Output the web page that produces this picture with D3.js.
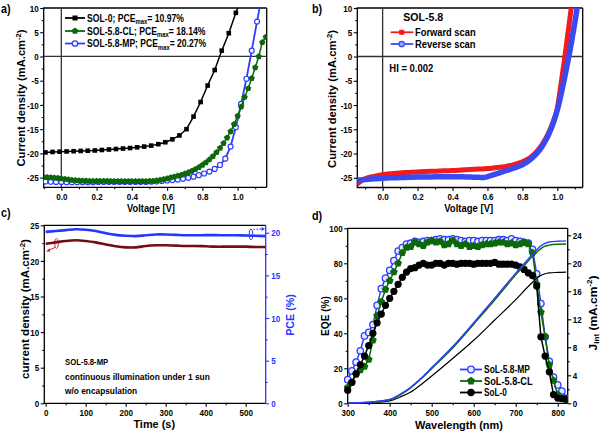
<!DOCTYPE html>
<html><head><meta charset="utf-8">
<script src="https://cdn.jsdelivr.net/npm/d3@7"></script>
<style>body{margin:0;background:#fff}</style>
</head><body><svg id="c" width="600" height="432" style="background:#fff"></svg>
<script>
// ---------- DATA ----------
// panel a: J-V curves
const vSol0 = [-0.09,-0.05,-0.01,0.03,0.07,0.11,0.15,0.19,0.23,0.27,0.31,0.35,0.39,0.43,0.47,0.51,0.55,0.59,0.63,0.67,0.71,0.75,0.79,0.83,0.87,0.91,0.95,0.99,1.03];
const jSol0 = [-19.8,-19.7,-19.65,-19.6,-19.55,-19.5,-19.45,-19.4,-19.3,-19.2,-19.1,-19.0,-18.9,-18.75,-18.6,-18.4,-18.1,-17.7,-17.1,-16.3,-15.0,-12.4,-9.4,-6.0,-2.8,1.2,4.8,9.0,13.0];
const vCL = [-0.10,-0.08,-0.06,-0.04,-0.02,0.00,0.02,0.04,0.06,0.08,0.10,0.12,0.14,0.16,0.18,0.20,0.22,0.24,0.26,0.28,0.30,0.32,0.34,0.36,0.38,0.40,0.42,0.44,0.46,0.48,0.50,0.52,0.54,0.56,0.58,0.60,0.62,0.64,0.66,0.68,0.70,0.72,0.74,0.76,0.78,0.80,0.82,0.84,0.86,0.88,0.90,0.92,0.94,0.96,0.98,1.00,1.02,1.04,1.06,1.08,1.10,1.12,1.14,1.16];
const jCL = [-24.9,-24.95,-25.0,-25.05,-25.1,-25.2,-25.3,-25.4,-25.5,-25.55,-25.6,-25.65,-25.65,-25.7,-25.7,-25.7,-25.7,-25.7,-25.7,-25.75,-25.75,-25.75,-25.75,-25.75,-25.75,-25.75,-25.75,-25.75,-25.75,-25.75,-25.7,-25.7,-25.6,-25.5,-25.35,-25.2,-25.0,-24.85,-24.65,-24.45,-24.2,-23.95,-23.65,-23.3,-22.9,-22.4,-21.9,-21.3,-20.6,-19.8,-18.9,-17.9,-16.8,-15.5,-14.0,-12.3,-10.4,-8.4,-6.6,-4.5,-2.3,0.0,2.9,4.0];
const vMP = [-0.09,-0.06,-0.03,0.00,0.03,0.06,0.09,0.12,0.15,0.18,0.21,0.24,0.27,0.30,0.33,0.36,0.39,0.42,0.45,0.48,0.51,0.54,0.57,0.60,0.63,0.66,0.69,0.72,0.75,0.78,0.81,0.84,0.87,0.90,0.93,0.96,0.99,1.02,1.05,1.08,1.11,1.14];
const jMP = [-25.8,-25.85,-25.9,-25.9,-25.95,-25.95,-25.95,-25.95,-25.95,-25.95,-25.9,-25.9,-25.9,-25.9,-25.9,-25.9,-25.9,-25.9,-25.9,-25.9,-25.85,-25.8,-25.7,-25.6,-25.5,-25.4,-25.25,-25.05,-24.8,-24.5,-24.15,-23.75,-23.2,-22.4,-21.1,-18.6,-14.6,-9.8,-4.6,1.2,7.2,13.0];
const legendA = ["SOL-0; PCE", "SOL-5.8-CL; PCE", "SOL-5.8-MP; PCE"];
const pceA = ["= 10.97%", "= 18.14%", "= 20.27%"];

// panel b: hysteresis
const vFwd = [-0.15,-0.125,-0.10,-0.05,0.00,0.05,0.10,0.15,0.20,0.25,0.30,0.35,0.40,0.45,0.50,0.55,0.60,0.65,0.70,0.75,0.80,0.85,0.90,0.925,0.95,0.975,1.00,1.02,1.04,1.06,1.08,1.10];
const jFwd = [-26.4,-25.7,-25.2,-24.7,-24.35,-24.15,-24.0,-23.9,-23.8,-23.7,-23.65,-23.55,-23.5,-23.4,-23.3,-23.2,-23.1,-22.9,-22.7,-22.3,-21.7,-20.7,-18.8,-17.4,-15.7,-13.5,-10.6,-5.9,-0.8,4.6,10.2,15.5];
const vRev = [-0.15,-0.10,-0.05,0.00,0.05,0.10,0.15,0.20,0.25,0.30,0.35,0.40,0.45,0.50,0.55,0.58,0.60,0.65,0.70,0.75,0.80,0.85,0.90,0.925,0.95,0.975,1.00,1.02,1.04,1.06,1.08,1.10,1.12];
const jRev = [-25.5,-25.35,-25.2,-25.1,-25.0,-24.95,-24.9,-24.85,-24.85,-24.8,-24.8,-24.8,-24.8,-24.85,-24.9,-24.95,-24.75,-24.2,-23.6,-23.0,-22.3,-21.1,-19.2,-17.8,-16.1,-13.9,-11.0,-8.0,-4.6,-1.0,2.8,7.0,11.5];

// panel c: stability
const tStab = [0,25,50,75,100,125,150,175,200,225,250,275,300,325,350,375,400,425,450,475,500,525,550];
const jStab = [22.4,22.6,22.8,22.9,22.8,22.6,22.3,22.05,21.9,21.9,22.1,22.2,22.2,22.15,22.1,22.1,22.05,22.0,22.0,22.0,22.0,21.95,21.95];
const pceStab = [20.1,20.2,20.3,20.4,20.35,20.2,19.95,19.75,19.65,19.6,19.7,19.8,19.8,19.75,19.7,19.7,19.72,19.72,19.7,19.7,19.68,19.65,19.6];

// panel d: EQE and integrated Jsc
const nm = [300,310,320,330,340,350,360,370,380,390,400,410,420,430,440,450,460,470,480,490,500,510,520,530,540,550,560,570,580,590,600,610,620,630,640,650,660,670,680,690,700,710,720,730,740,750,760,770,780,790,800,810,820];
const eqeMP = [13.5,18.5,23.5,30,38.5,40.5,45,56,65.5,71.5,76,81.5,87,89,91,91.5,92.5,92,92.5,93,93,93.5,94,93.5,93.5,94,93.5,93,92.5,93,93,92.5,93,93,93,93,93.5,93.5,93,94,93,92.5,92,91.5,88,74,57,38,24,15,10.5,7,3];
const eqeCL = [9,12,16.5,19,21,25,36,50,58,65,70,75,80,86,89,89.5,92,91,90,92,93,92,92.5,90.5,91,93,91,90,91,89.5,90,89.5,90.5,91,91,91.5,92,92,91,91.5,90.5,91,92,91,86,68,52,38,22,13,5,2.7,2];
const eqe0 = [7.5,12,17,22,27,33,40,46,51,56,60,64,68,72,75,77,77.5,79,80,79,79,80,80,79,80,80,79.5,80,80,80,79.5,80,80,80,80,80.5,79.5,79.5,79.5,79.5,79,78,76.5,74.5,73,67,38,27,18,5,3,2.7,2.5];
const nmJ = [300,350,400,425,450,475,500,550,600,650,700,725,740,750,760,770,780,800,820];
const jintMP = [0.05,0.15,0.55,1.3,2.3,3.6,5.1,8.1,11.5,15.0,18.6,20.3,21.3,21.9,22.5,22.85,23.05,23.15,23.2];
const jintCL = [0.05,0.15,0.5,1.2,2.2,3.5,4.95,7.9,11.3,14.75,18.35,20.0,21.0,21.55,22.1,22.45,22.6,22.72,22.75];
const jint0 = [0.03,0.1,0.35,0.9,1.6,2.7,3.9,6.4,9.0,11.9,14.8,16.4,17.3,17.85,18.25,18.5,18.62,18.7,18.75];
const legendD = ["SoL-5.8-MP", "SoL-5.8-CL", "SoL-0"];

// ---------- STYLE ----------
const FONT = '"Liberation Sans", Arial, Helvetica, sans-serif';
const TSX = 0.82;
const C = {blue:"#2f3dff", green:"#0b680b", black:"#000", red:"#f21a1a", blueB:"#3a4af2", maroon:"#6f0e14", blueC:"#2536ff"};

const svg = d3.select('#c');
const pentagon = {draw(ctx, size){ const r=Math.sqrt(size/2.378); for(let i=0;i<5;i++){const a=-Math.PI/2+i*2*Math.PI/5; const px=r*Math.cos(a), py=r*Math.sin(a); i?ctx.lineTo(px,py):ctx.moveTo(px,py);} ctx.closePath(); }};

function txt(g, segs, o){
  const size=o.size||11;
  const t=g.append('text').attr('font-family',FONT).attr('font-weight','bold').attr('font-size',size)
    .attr('fill',o.fill||'#000').attr('text-anchor',o.rot?'middle':(o.anchor||'start')).attr('y',0.358*size);
  let shift=0;
  segs.forEach(s=>{
    if(typeof s==='string') s={t:s};
    const ts=t.append('tspan').text(s.t);
    const target=s.sup?-0.4*size:(s.sub?0.25*size:0);
    if(target!==shift){ts.attr('dy',target-shift); shift=target;}
    if(s.sup||s.sub) ts.attr('font-size',size*0.68);
  });
  const n=t.node().getComputedTextLength();
  const k=o.len? o.len/n : (o.sx||TSX);
  if(o.rot) t.attr('transform',`translate(${o.x},${o.y}) rotate(${o.rot}) scale(${k},1)`);
  else t.attr('transform',`translate(${o.x},${o.y}) scale(${k},1)`);
  return t;
}

function axis(g, scale, orient, pos, major, minor, fmt, o={}){
  const color=o.color||'#000';
  const A={bottom:d3.axisBottom,left:d3.axisLeft,right:d3.axisRight}[orient];
  const tr=orient==='bottom'?`translate(0,${pos})`:`translate(${pos},0)`;
  const gm=g.append('g').attr('transform',tr).call(A(scale).tickValues(minor).tickSize(2).tickFormat(''));
  const gM=g.append('g').attr('transform',tr).call(A(scale).tickValues(major).tickSize(3.5).tickPadding(o.pad??1.5).tickFormat(fmt));
  [gm,gM].forEach(s=>{s.select('.domain').remove(); s.selectAll('line').attr('stroke',color).attr('stroke-width',1.1);});
  gM.selectAll('text').attr('font-size',o.size||9.8).attr('font-family',FONT).attr('font-weight','bold').attr('fill',color)
    .each(function(){const t=d3.select(this); const x=+t.attr('x')||0; t.attr('x',x/TSX).attr('transform',`scale(${TSX},1)`);});
}

function frame(g,x0,y0,x1,y1,rightColor){
  g.append('path').attr('d',`M${x1},${y0}H${x0}V${y1}H${x1}`).attr('fill','none').attr('stroke','#000').attr('stroke-width',1.3);
  g.append('line').attr('x1',x1).attr('x2',x1).attr('y1',y0).attr('y2',y1).attr('stroke',rightColor||'#000').attr('stroke-width',1.3);
}
function clip(id,x0,y0,x1,y1){
  svg.append('clipPath').attr('id',id).append('rect').attr('x',x0).attr('y',y0).attr('width',x1-x0).attr('height',y1-y0);
  return svg.append('g').attr('clip-path',`url(#${id})`);
}
const fmtInt=d=>String(d);
const fmt1=d=>d.toFixed(1);

// ================= PANEL A =================
{
  const L=43.7,R=266.7,T=8,B=187.3;
  const x=d3.scaleLinear().domain([-0.1,1.165]).range([L,R]);
  const y=d3.scaleLinear().domain([-27,10]).range([B,T]);
  const g=svg.append('g');
  const p=clip('ca',L,T,R,B);
  p.append('line').attr('x1',L).attr('x2',R).attr('y1',y(0)).attr('y2',y(0)).attr('stroke','#333').attr('stroke-width',1.3);
  p.append('line').attr('x1',x(0)).attr('x2',x(0)).attr('y1',T).attr('y2',B).attr('stroke','#333').attr('stroke-width',1.3);
  const line=d3.line().x(d=>x(d[0])).y(d=>y(d[1]));
  const dMP=vMP.map((v,i)=>[v,jMP[i]]), dCL=vCL.map((v,i)=>[v,jCL[i]]), d0=vSol0.map((v,i)=>[v,jSol0[i]]);
  p.append('path').attr('d',line(dMP)).attr('fill','none').attr('stroke',C.blue).attr('stroke-width',1.8);
  p.selectAll('.mp').data(dMP).join('circle').attr('cx',d=>x(d[0])).attr('cy',d=>y(d[1])).attr('r',2.5).attr('fill','#fff').attr('stroke',C.blue).attr('stroke-width',1.2);
  p.append('path').attr('d',line(dCL)).attr('fill','none').attr('stroke',C.green).attr('stroke-width',1.5);
  p.selectAll('.cl').data(dCL).join('path').attr('transform',d=>`translate(${x(d[0])},${y(d[1])})`).attr('d',d3.symbol(pentagon,26)).attr('fill',C.green);
  p.append('path').attr('d',line(d0)).attr('fill','none').attr('stroke','#000').attr('stroke-width',1.5);
  p.selectAll('.s0').data(d0).join('rect').attr('x',d=>x(d[0])-2.3).attr('y',d=>y(d[1])-2.3).attr('width',4.6).attr('height',4.6).attr('fill','#000');
  frame(g,L,T,R,B);
  axis(g,x,'bottom',B,[0,0.2,0.4,0.6,0.8,1.0],[-0.1,0.1,0.3,0.5,0.7,0.9,1.1],fmt1,{pad:2});
  axis(g,y,'left',L,[10,5,0,-5,-10,-15,-20,-25],[7.5,2.5,-2.5,-7.5,-12.5,-17.5,-22.5],fmtInt,{pad:1.5});
  txt(g,['Current density (mA.cm',{t:'-2',sup:true},')'],{x:21,y:98,rot:-90,len:137,size:11.5});
  txt(g,['Voltage [V]'],{x:151,y:207.5,anchor:'middle',len:48,size:11.5});
  txt(g,['a)'],{x:1,y:8.5,size:12,sx:0.9});
  // legend
  const ly=[18,31,43.5], lc=[C.black,C.green,C.blue], lw=[97,118.5,119.3];
  ly.forEach((yy,i)=>{
    g.append('line').attr('x1',65).attr('x2',85).attr('y1',yy).attr('y2',yy).attr('stroke',lc[i]).attr('stroke-width',1.8);
    if(i===0) g.append('rect').attr('x',72.5).attr('y',yy-2.5).attr('width',5).attr('height',5).attr('fill','#000');
    if(i===1) g.append('path').attr('transform',`translate(75,${yy})`).attr('d',d3.symbol(pentagon,30)).attr('fill',C.green);
    if(i===2) g.append('circle').attr('cx',75).attr('cy',yy).attr('r',2.7).attr('fill','#fff').attr('stroke',C.blue).attr('stroke-width',1.3);
    txt(g,[legendA[i],{t:'max',sub:true},pceA[i]],{x:87,y:yy,len:lw[i],size:10.3});
  });
}

// ================= PANEL B =================
{
  const L=357.3,R=582.7,T=8,B=187.5;
  const x=d3.scaleLinear().domain([-0.145,1.145]).range([L,R]);
  const y=d3.scaleLinear().domain([-27,10]).range([B,T]);
  const g=svg.append('g');
  const p=clip('cb',L,T,R,B);
  p.append('line').attr('x1',L).attr('x2',R).attr('y1',y(0)).attr('y2',y(0)).attr('stroke','#333').attr('stroke-width',1.3);
  p.append('line').attr('x1',x(0)).attr('x2',x(0)).attr('y1',T).attr('y2',B).attr('stroke','#333').attr('stroke-width',1.3);
  const line=d3.line().x(d=>x(d[0])).y(d=>y(d[1])).curve(d3.curveMonotoneX);
  const dF=vFwd.map((v,i)=>[v,jFwd[i]]), dR=vRev.map((v,i)=>[v,jRev[i]]);
  p.append('path').attr('d',line(dF)).attr('fill','none').attr('stroke',C.red).attr('stroke-width',5).attr('stroke-linejoin','round');
  p.append('path').attr('d',line(dR)).attr('fill','none').attr('stroke',C.blueB).attr('stroke-width',5.5).attr('stroke-linejoin','round');
  frame(g,L,T,R,B);
  axis(g,x,'bottom',B,[0,0.2,0.4,0.6,0.8,1.0],[-0.1,0.1,0.3,0.5,0.7,0.9,1.1],fmt1,{pad:2});
  axis(g,y,'left',L,[10,5,0,-5,-10,-15,-20,-25],[7.5,2.5,-2.5,-7.5,-12.5,-17.5,-22.5],fmtInt,{pad:1.5});
  txt(g,['Current density (mA.cm',{t:'-2',sup:true},')'],{x:332,y:99,rot:-90,len:138,size:11.5});
  txt(g,['Voltage [V]'],{x:468.7,y:207.5,anchor:'middle',len:49,size:11.5});
  txt(g,['b)'],{x:312,y:8.5,size:12,sx:0.9});
  txt(g,['SOL-5.8'],{x:403.3,y:17,len:40,size:11});
  g.append('line').attr('x1',390.7).attr('x2',413.3).attr('y1',32.3).attr('y2',32.3).attr('stroke',C.red).attr('stroke-width',1.8);
  g.append('rect').attr('x',399.2).attr('y',29.8).attr('width',5).attr('height',5).attr('fill',C.red);
  g.append('line').attr('x1',390.7).attr('x2',413.3).attr('y1',44).attr('y2',44).attr('stroke',C.blueB).attr('stroke-width',1.8);
  g.append('circle').attr('cx',401.7).attr('cy',44).attr('r',2.7).attr('fill','#9aa6ff').attr('stroke',C.blueB).attr('stroke-width',1.3);
  txt(g,['Forward scan'],{x:415,y:32.3,len:60.7,size:11});
  txt(g,['Reverse scan'],{x:415,y:44,len:60.7,size:11});
  txt(g,['HI = 0.002'],{x:389.3,y:68.3,len:44,size:10.5});
}

// ================= PANEL C =================
{
  const L=44.3,R=265.7,T=225.3,B=403.3;
  const x=d3.scaleLinear().domain([-3.5,550]).range([L,R]);
  const y=d3.scaleLinear().domain([0,25]).range([B,T]);
  const y2=d3.scaleLinear().domain([0,20.87]).range([B,T]);
  const g=svg.append('g');
  const p=clip('cc',L,T,R,B);
  const lJ=d3.line().x((d,i)=>x(tStab[i])).y(d=>y(d)).curve(d3.curveCatmullRom);
  const lP=d3.line().x((d,i)=>x(tStab[i])).y(d=>y2(d)).curve(d3.curveCatmullRom);
  p.append('path').attr('d',lP(pceStab)).attr('fill','none').attr('stroke',C.blueC).attr('stroke-width',2.6);
  p.append('path').attr('d',lJ(jStab)).attr('fill','none').attr('stroke',C.maroon).attr('stroke-width',2.6);
  // annotations
  g.append('ellipse').attr('cx',56.5).attr('cy',y(22.45)).attr('rx',1.8).attr('ry',5).attr('fill','none').attr('stroke','#c0303c').attr('stroke-width',1);
  g.append('line').attr('x1',55).attr('y1',y(22.45)+4).attr('x2',48).attr('y2',y(22.45)+7).attr('stroke','#c0303c').attr('stroke-width',1);
  g.append('path').attr('d',`M46,${y(22.45)+8} l3.5,-3.2 l0.8,3.4 z`).attr('fill','#c0303c');
  g.append('ellipse').attr('cx',251).attr('cy',y2(19.8)).attr('rx',1.8).attr('ry',5.5).attr('fill','none').attr('stroke',C.blueC).attr('stroke-width',1);
  g.append('line').attr('x1',253.5).attr('y1',y2(19.8)-5).attr('x2',262).attr('y2',y2(19.8)-5.5).attr('stroke',C.blueC).attr('stroke-width',1).attr('stroke-dasharray','1.5,1.5');
  g.append('path').attr('d',`M265,${y2(19.8)-5.5} l-3.5,-2 l0,4 z`).attr('fill',C.blueC);
  frame(g,L,T,R,B,C.blueC);
  axis(g,x,'bottom',B,[0,100,200,300,400,500],[50,150,250,350,450],fmtInt,{pad:2});
  axis(g,y,'left',L,[0,5,10,15,20,25],[2.5,7.5,12.5,17.5,22.5],fmtInt,{pad:1.5});
  axis(g,y2,'right',R,[0,5,10,15,20],[2.5,7.5,12.5,17.5],fmtInt,{pad:2,color:C.blueC});
  txt(g,['current density (mA.cm',{t:'-2',sup:true},')'],{x:25,y:309,rot:-90,len:140,size:11.5});
  txt(g,['PCE (%)'],{x:290,y:315,rot:-90,len:41.7,size:11.5,fill:C.blueC});
  txt(g,['Time (s)'],{x:154.2,y:423.5,anchor:'middle',len:41.7,size:11.5});
  txt(g,['c)'],{x:1,y:213,size:12,sx:0.9});
  txt(g,['SOL-5.8-MP'],{x:65,y:362,len:43.3,size:9.5});
  txt(g,['continuous illumination under 1 sun'],{x:65,y:377,len:145,size:9.5});
  txt(g,['w/o encapsulation'],{x:65,y:391,len:72.3,size:9.5});
}

// ================= PANEL D =================
{
  const L=347.7,R=567.7,T=228.3,B=403.3;
  const x=d3.scaleLinear().domain([300,823.8]).range([L,R]);
  const y=d3.scaleLinear().domain([0,100]).range([B,T]);
  const y2=d3.scaleLinear().domain([0,25]).range([B,T]);
  const g=svg.append('g');
  const p=clip('cd',L-6,T,R,B+6);
  const lE=d3.line().x((d,i)=>x(nm[i])).y(d=>y(d));
  const lJ=d3.line().x((d,i)=>x(nmJ[i])).y(d=>y2(d)).curve(d3.curveMonotoneX);
  // EQE
  p.append('path').attr('d',lE(eqeMP)).attr('fill','none').attr('stroke',C.blue).attr('stroke-width',1.5);
  p.selectAll('.emp').data(eqeMP).join('circle').attr('cx',(d,i)=>x(nm[i])).attr('cy',d=>y(d)).attr('r',3.2).attr('fill','#e6eaff').attr('stroke',C.blue).attr('stroke-width',1.3);
  p.append('path').attr('d',lE(eqeCL)).attr('fill','none').attr('stroke',C.green).attr('stroke-width',1.5);
  p.selectAll('.ecl').data(eqeCL).join('path').attr('transform',(d,i)=>`translate(${x(nm[i])},${y(d)})`).attr('d',d3.symbol(pentagon,40)).attr('fill',C.green);
  p.append('path').attr('d',lE(eqe0)).attr('fill','none').attr('stroke','#000').attr('stroke-width',1.5);
  p.selectAll('.e0').data(eqe0).join('circle').attr('cx',(d,i)=>x(nm[i])).attr('cy',d=>y(d)).attr('r',3.6).attr('fill','#000');
  // Jint
  p.append('path').attr('d',lJ(jint0)).attr('fill','none').attr('stroke','#000').attr('stroke-width',1.2);
  p.append('path').attr('d',lJ(jintCL)).attr('fill','none').attr('stroke',C.green).attr('stroke-width',1.4);
  p.append('path').attr('d',lJ(jintMP)).attr('fill','none').attr('stroke',C.blue).attr('stroke-width',1.4);
  frame(g,L,T,R,B);
  axis(g,x,'bottom',B,[300,400,500,600,700,800],[350,450,550,650,750],fmtInt,{pad:2});
  axis(g,y,'left',L,[0,20,40,60,80,100],[10,30,50,70,90],fmtInt,{pad:1.5});
  axis(g,y2,'right',R,[0,4,8,12,16,20,24],[2,6,10,14,18,22],fmtInt,{pad:1.5});
  txt(g,['EQE (%)'],{x:325,y:316,rot:-90,len:40,size:11.5});
  txt(g,['Wavelength (nm)'],{x:459,y:424.5,anchor:'middle',len:88,size:11.5});
  txt(g,['J',{t:'int',sub:true},' (mA.cm',{t:'-2',sup:true},')'],{x:592.5,y:313,rot:-90,len:75,size:11.5});
  txt(g,['d)'],{x:312,y:216,size:12,sx:0.9});
  // legend
  const ly=[369.5,381,392.5], lw=[46,48.7,22.7];
  ly.forEach((yy,i)=>{
    const col=[C.blue,C.green,'#000'][i];
    g.append('line').attr('x1',460).attr('x2',482).attr('y1',yy).attr('y2',yy).attr('stroke',col).attr('stroke-width',1.8);
    if(i===0) g.append('circle').attr('cx',471).attr('cy',yy).attr('r',3.3).attr('fill','#e6eaff').attr('stroke',C.blue).attr('stroke-width',1.3);
    if(i===1) g.append('path').attr('transform',`translate(471,${yy})`).attr('d',d3.symbol(pentagon,42)).attr('fill',C.green);
    if(i===2) g.append('circle').attr('cx',471).attr('cy',yy).attr('r',3.7).attr('fill','#000');
    txt(g,[legendD[i]],{x:484,y:yy,len:lw[i],size:10});
  });
}
</script></body></html>
